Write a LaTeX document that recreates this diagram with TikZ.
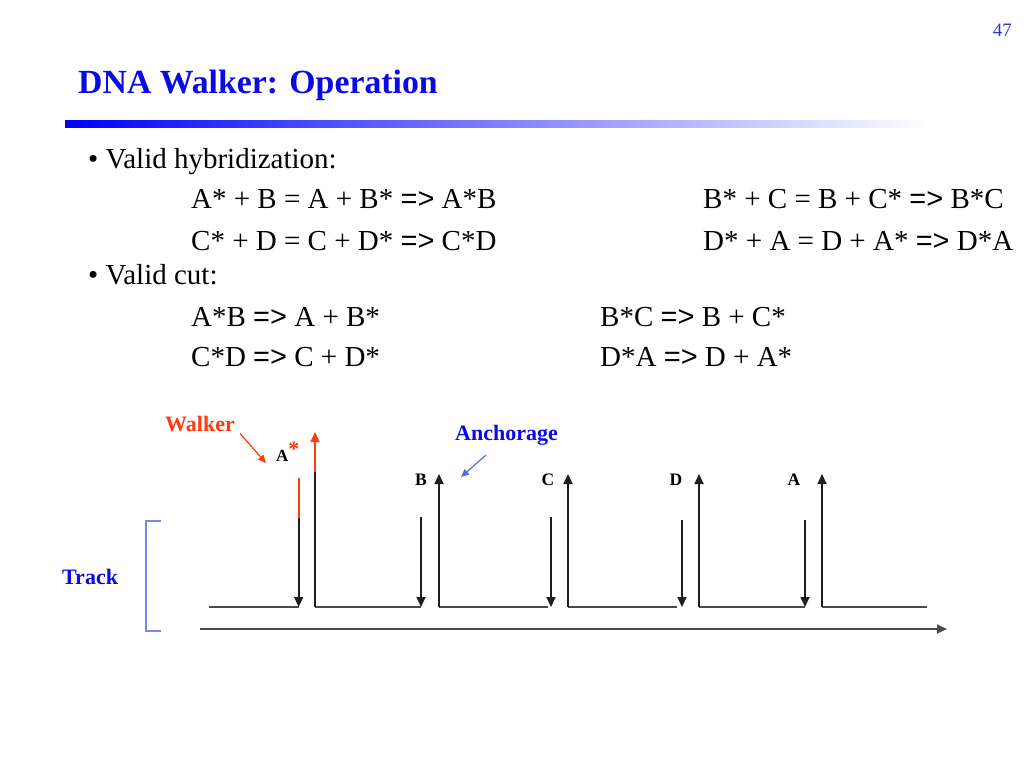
\documentclass[tikz,border=0pt]{standalone}
\usepackage{fontspec}
\setmainfont{Liberation Serif}
\newfontfamily\symfont{Liberation Sans}
\usetikzlibrary{positioning,arrows.meta}
\definecolor{SlideBlue}{HTML}{0A0AE6}
\definecolor{PageBlue}{HTML}{3535C8}
\definecolor{WalkerRed}{HTML}{FF3A10}
\definecolor{PointerBlue}{HTML}{4A6FE8}
\definecolor{BracketBlue}{HTML}{6F8EEA}
\definecolor{StrandGray}{HTML}{1E1E1E}
\definecolor{FloorGray}{HTML}{4A4A4A}
\newcommand{\yields}{{\symfont =>}}

\begin{document}
\begin{tikzpicture}[x=1pt,y=-1pt,>={Triangle[length=10pt,width=9pt]}]
  \tikzstyle{line}=[anchor=base west,inner sep=0pt,font=\fontsize{29}{35}\selectfont]
  \tikzstyle{sitelabel}=[anchor=base,inner sep=0pt,font=\fontsize{17.5}{20}\bfseries\selectfont]
  \tikzstyle{callout}=[anchor=base west,inner sep=0pt,font=\fontsize{22}{24}\bfseries\selectfont]
  \tikzstyle{strand}=[draw=StrandGray,line width=1.7pt]
  \tikzstyle{floor}=[draw=FloorGray,line width=1.3pt]
  \useasboundingbox (0,0) rectangle (1024,768);
  \fill[white] (0,0) rectangle (1024,768);

  % header
  \node[anchor=base east,inner sep=0pt,text=PageBlue,font=\fontsize{19}{22}\selectfont] (page) at (1012,37) {47};
  \node[anchor=base west,inner sep=0pt,text=SlideBlue,font=\fontsize{33.8}{40}\bfseries\selectfont] (title) at (78,93) {DNA Walker: Operation};
  \shade[left color=blue,right color=white] (65,120) rectangle (930,127);

  % rules
  \node[line] (hyb) at (88,168) {\textbullet\ Valid hybridization:};
  \node[line] (h1) at (191,208) {A* + B = A + B* \yields\ A*B};
  \node[line] (h2) at (703,208) {B* + C = B + C* \yields\ B*C};
  \node[line] (h3) at (191,250) {C* + D = C + D* \yields\ C*D};
  \node[line] (h4) at (703,250) {D* + A = D + A* \yields\ D*A};
  \node[line] (cut) at (88,284) {\textbullet\ Valid cut:};
  \node[line] (c1) at (191,326) {A*B \yields\ A + B*};
  \node[line] (c2) at (600,326) {B*C \yields\ B + C*};
  \node[line] (c3) at (191,366) {C*D \yields\ C + D*};
  \node[line] (c4) at (600,366) {D*A \yields\ D + A*};

  % track sites
  \foreach \xu/\xh [count=\i] in {315/421, 439/548, 568/677, 699/805, 822/927}{
    \coordinate (base\i) at (\xu,607);
    \coordinate (end\i) at (\xh,607);
    \draw[floor] (base\i) -- (end\i);
  }
  \foreach \xu/\xd/\yd/\xl/\lbl [count=\i from 2] in {439/421/517/421/B, 568/551/517/548/C, 699/682/520/676/D, 822/805/520/794/A}{
    \coordinate (top\i) at (\xu,474);
    \coordinate (tail\i) at (\xd,\yd);
    \coordinate (foot\i) at (\xd,607);
    \draw[strand,->] (base\i) -- (top\i);
    \draw[strand,->] (tail\i) -- (foot\i);
    \node[sitelabel] (site\lbl) at (\xl,485) {\lbl};
  }

  % walker
  \coordinate (stub) at (209,607);
  \coordinate (wtop) at (298.7,478);
  \coordinate (wmid) at (298.7,518);
  \coordinate (wfoot) at (298.7,607);
  \coordinate (amid) at (315,472);
  \coordinate (atip) at (315,432);
  \draw[floor] (stub) -- (wfoot);
  \draw[line width=1.7pt,WalkerRed] (wtop) -- (wmid);
  \draw[strand,->] (wmid) -- (wfoot);
  \draw[strand] (base1) -- (amid);
  \draw[line width=1.7pt,WalkerRed,->] (amid) -- (atip);
  \node[anchor=base west,inner sep=0pt,font=\fontsize{17}{18}\bfseries\selectfont] (astar) at (276,461)
    {A{\color{WalkerRed}\raisebox{5pt}{\fontsize{22}{22}\selectfont *}}};

  % callouts
  \node[callout,text=WalkerRed] (walker) at (165,431) {Walker};
  \coordinate (wptr) at (266,463);
  \draw[WalkerRed,line width=1.2pt,-{Triangle[length=8pt,width=7pt]}] (walker.south east) ++(5,2) -- (wptr);
  \node[callout,text=SlideBlue] (anchor) at (455,440) {Anchorage};
  \coordinate (aptr) at (461,477);
  \draw[PointerBlue,line width=1.2pt,-{Triangle[length=8pt,width=7pt]}] (anchor.south west) ++(31,10) -- (aptr);

  % track
  \node[callout,text=SlideBlue] (track) at (62,584) {Track};
  \draw[BracketBlue,line width=1.2pt] (161,521) -- (146,521) -- (146,631) -- (161,631);
  \coordinate (axl) at (200,629);
  \coordinate (axr) at (947,629);
  \draw[draw=FloorGray,line width=1.8pt,->] (axl) -- (axr);
\end{tikzpicture}
\end{document}
